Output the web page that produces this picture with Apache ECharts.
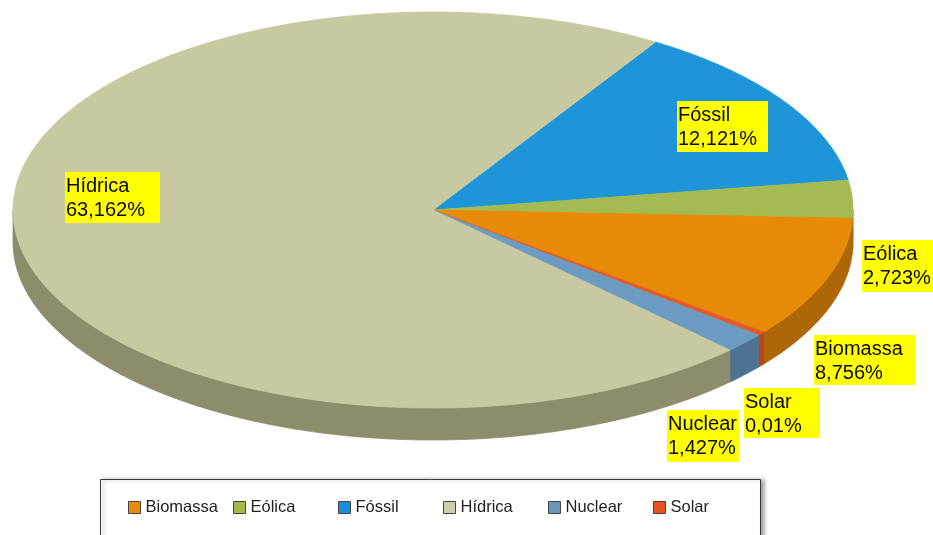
<!DOCTYPE html>
<html>
<head>
<meta charset="utf-8">
<script src="https://cdn.jsdelivr.net/npm/echarts@6/dist/echarts.min.js"></script>
<style>
  html, body { margin: 0; padding: 0; background: #ffffff; }
  #chart { width: 933px; height: 535px; }
</style>
</head>
<body>
<div id="chart"></div>
<script>
// Energy sources, in clockwise order around the pie
const sources = ['Fóssil', 'Eólica', 'Biomassa', 'Solar', 'Nuclear', 'Hídrica'];
// Share of each source (%)
const shares = [12.121, 2.723, 8.756, 0.01, 1.427, 63.162];

// Colours: top face, side wall, legend swatch
const topColors = {
  'Fóssil': '#1d95d8', 'Eólica': '#a3bb52', 'Biomassa': '#e68a07',
  'Solar': '#e45a27', 'Nuclear': '#6b9bc0', 'Hídrica': '#c8c9a0'
};
const sideColors = {
  'Fóssil': '#16709f', 'Eólica': '#738839', 'Biomassa': '#ad6707',
  'Solar': '#b8461d', 'Nuclear': '#4e7292', 'Hídrica': '#8d8c6b'
};
const swatchColors = {
  'Biomassa': '#e88b0c', 'Eólica': '#a2bb48', 'Fóssil': '#1a8fd8',
  'Hídrica': '#cfd0a8', 'Nuclear': '#6d95b5', 'Solar': '#e6531f'
};

// Tilted pie geometry (pixels / degrees)
const pie = { cx: 433, cy: 210, rx: 420, ry: 198, depth: 32, startAngle: 58, minAngle: 1.2 };

// Label boxes: left, top, width, height
const labelBoxes = {
  'Fóssil':   [677, 101, 91, 51],
  'Eólica':   [862, 240, 84, 52],
  'Biomassa': [814, 335, 101, 50],
  'Solar':    [744, 388, 76, 50],
  'Nuclear':  [667, 410, 72, 52],
  'Hídrica':  [65, 172, 95, 51]
};

// Legend frame and the equal-width slots inside it
const legendFrame = { x: 100.5, y: 479.5, width: 660, height: 80 };
const legendSlot = { left: 128, width: 105, top: 499 };

const fontFamily = '"Liberation Sans", Arial, sans-serif';

// Sweep of each slice, keeping tiny slices visible (same idea as pie minAngle)
const total = shares.reduce((a, b) => a + b, 0);
const rawSweeps = shares.map(v => v / total * 360);
const isSmall = rawSweeps.map(s => s < pie.minAngle);
const fixedSweep = isSmall.reduce((a, s) => a + (s ? pie.minAngle : 0), 0);
const freeSweep = rawSweeps.reduce((a, s, i) => a + (isSmall[i] ? 0 : s), 0);
const sweeps = rawSweeps.map((s, i) => isSmall[i] ? pie.minAngle : s * (360 - fixedSweep) / freeSweep);

// Start/end angle of each slice, going clockwise
const arcs = [];
let acc = pie.startAngle;
sweeps.forEach(s => { arcs.push([acc, acc - s]); acc -= s; });

function rimPoint(deg, drop) {
  const t = deg * Math.PI / 180;
  return [pie.cx + pie.rx * Math.cos(t), pie.cy - pie.ry * Math.sin(t) + drop];
}

function arcPoints(from, to, drop) {
  const pts = [];
  const n = Math.max(2, Math.ceil(Math.abs(from - to) / 0.5));
  for (let k = 0; k <= n; k++) pts.push(rimPoint(from + (to - from) * k / n, drop));
  return pts;
}

function formatShare(v) {
  return String(v).replace('.', ',') + '%';
}

function sliceRenderer(idx) {
  const name = sources[idx];
  return function (params, api) {
    const [a1, a2] = arcs[idx];
    const children = [];
    // Front wall: only the part of the rim that faces the viewer
    const hi = Math.min(a1, 0), lo = Math.max(a2, -180);
    if (hi > lo) {
      const pts = arcPoints(hi, lo, 0).concat(arcPoints(lo, hi, pie.depth));
      children.push({
        type: 'polygon', z2: 1,
        shape: { points: pts },
        style: { fill: sideColors[name], stroke: sideColors[name], lineWidth: 0.8 }
      });
    }
    // Top face
    const topPts = [[pie.cx, pie.cy]].concat(arcPoints(a1, a2, 0));
    children.push({
      type: 'polygon', z2: 2,
      shape: { points: topPts },
      style: { fill: topColors[name], stroke: topColors[name], lineWidth: 0.8 }
    });
    return { type: 'group', children: children };
  };
}

function labelRenderer(params, api) {
  const idx = params.dataIndex;
  const name = sources[idx];
  const [x, y, w, h] = labelBoxes[name];
  return {
    type: 'text',
    x: x, y: y,
    style: {
      text: name + '\n' + formatShare(api.value(0)),
      fill: '#0a0a0a',
      font: '20px ' + fontFamily,
      lineHeight: 24,
      align: 'left',
      verticalAlign: 'top',
      backgroundColor: '#ffff00',
      padding: [2, 2, 1, 1],
      width: w - 3,
      height: h - 3
    }
  };
}

const legendOrder = sources.slice().sort((a, b) => a.localeCompare(b, 'pt'));

const series = sources.map((name, i) => ({
  type: 'custom',
  name: name,
  coordinateSystem: 'none',
  z: 2,
  silent: true,
  itemStyle: { color: topColors[name] },
  renderItem: sliceRenderer(i),
  data: [[shares[i]]]
}));

series.push({
  type: 'custom',
  name: 'rótulos',
  coordinateSystem: 'none',
  z: 5,
  silent: true,
  renderItem: labelRenderer,
  data: shares.map(v => [v])
});

// One legend entry per equal-width slot
const legends = legendOrder.map((n, k) => ({
  data: [{ name: n, itemStyle: { color: swatchColors[n] } }],
  selectedMode: false,
  left: legendSlot.left + k * legendSlot.width,
  top: legendSlot.top,
  padding: 0,
  itemWidth: 12,
  itemHeight: 12,
  icon: 'rect',
  itemStyle: { borderColor: '#444444', borderWidth: 1 },
  textStyle: { fontFamily: fontFamily, fontSize: 16.5, color: '#222222' },
  z: 6
}));

const chart = echarts.init(document.getElementById('chart'), null, { renderer: 'canvas' });
chart.setOption({
  animation: false,
  backgroundColor: '#ffffff',
  graphic: [{
    type: 'rect',
    z: 4,
    silent: true,
    shape: legendFrame,
    style: {
      fill: '#ffffff', stroke: '#3a3a3a', lineWidth: 1,
      shadowColor: 'rgba(0,0,0,0.35)', shadowBlur: 4, shadowOffsetX: 3, shadowOffsetY: 0
    }
  }],
  legend: legends,
  series: series
});
</script>
</body>
</html>
